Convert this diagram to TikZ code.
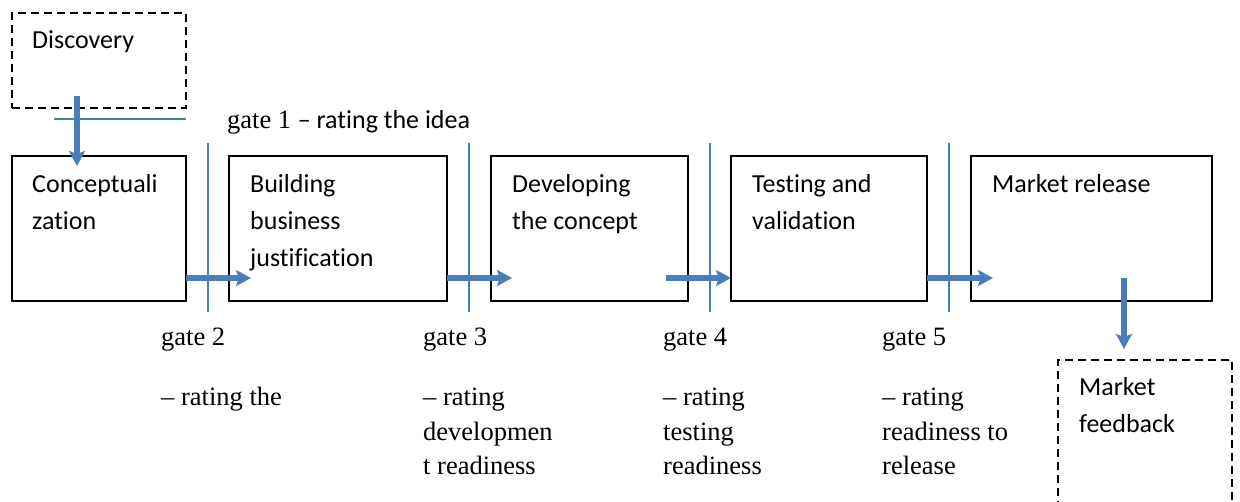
\documentclass[tikz,border=0pt]{standalone}
\usepackage{fontspec}
\setmainfont{Liberation Serif}
\newfontfamily\boxfont{Carlito}[Ligatures=NoCommon]
\usetikzlibrary{arrows.meta,calc}

\definecolor{flowblue}{HTML}{4A7EBB}

\begin{document}
\begin{tikzpicture}[x=1pt,y=1pt,
    flow/.style={draw=flowblue,line width=5.5pt,-{Stealth[length=15pt,width=16pt,inset=3pt]}},
    gate/.style={draw=flowblue,line width=1.5pt}]

        \useasboundingbox (0,0) rectangle (1240,-501);
        \clip (0,0) rectangle (1240,-501);

        % stages
        \begin{scope}[every node/.style={draw,line width=2pt,anchor=north west,
            inner sep=0pt,outer sep=0pt,minimum height=145pt}]
          \node[minimum width=174pt] (1) at (12,-156)  {};
          \node[minimum width=218pt] (2) at (229,-156) {};
          \node[minimum width=197pt] (3) at (491,-156) {};
          \node[minimum width=196pt] (4) at (731,-156) {};
          \node[minimum width=241pt] (5) at (971,-156) {};
        \end{scope}

        % outside the process
        \begin{scope}[every node/.style={draw,line width=2pt,dash pattern=on 8pt off 5pt,
            anchor=north west,inner sep=0pt,outer sep=0pt,minimum width=174pt}]
          \node[minimum height=95pt]  (0) at (12,-13)    {};
          \node[minimum height=200pt] (6) at (1058,-360) {};
        \end{scope}

        \begin{scope}[every node/.style={anchor=north west,inner sep=0pt,align=left,
            font=\boxfont\fontsize{26}{37}\selectfont}]
          \node (0t) at ($(0.north west)+(20,-9)$) {\strut Discovery};
          \node (1t) at ($(1.north west)+(20,-10)$) {\strut Conceptuali\\zation};
          \node (2t) at ($(2.north west)+(21,-10)$) {\strut Building\\business\\justification};
          \node (3t) at ($(3.north west)+(21,-10)$) {\strut Developing\\the concept};
          \node (4t) at ($(4.north west)+(21,-10)$) {\strut Testing and\\validation};
          \node (5t) at ($(5.north west)+(21,-10)$) {\strut Market release};
          \node (6t) at ($(6.north west)+(21,-9)$) {\strut Market\\feedback};
        \end{scope}

        \draw[flow] ($(0.south west)+(65,12)$) -- ($(1.north west)+(65,-10)$);
        \draw[flow] ($(1.south east)+(0,23)$) -- ($(2.south west)+(22,23)$);
        \draw[flow] ($(2.south east)+(0,23)$) -- ($(3.south west)+(21,23)$);
        \draw[flow] ($(3.south east)+(-22,23)$) -- ($(4.south west)+(0,23)$);
        \draw[flow] ($(4.south east)+(0,23)$) -- ($(5.south west)+(22,23)$);
        \draw[flow] ($(5.south west)+(153,23)$) -- ($(6.north west)+(66,11)$);

        % gates
        \draw[gate] (54,-119) -- (186,-119);
        \draw[gate] (208,-143) -- (208,-312);
        \draw[gate] (469,-143) -- (469,-312);
        \draw[gate] (710,-143) -- (710,-312);
        \draw[gate] (949,-143) -- (949,-312);

        \node[anchor=base west,inner sep=0pt,font=\fontsize{26.5}{34.5}\selectfont] (g1)
          at (227,-128) {gate 1 {\boxfont\fontsize{26}{34}\selectfont – rating the idea}};

        \begin{scope}[every node/.style={anchor=north west,inner sep=0pt,align=left,
            font=\fontsize{26.5}{34.5}\selectfont}]
          \node (g2) at (161,-321) {\strut gate 2\\[26pt]– rating the};
          \node (g3) at (423,-321) {\strut gate 3\\[26pt]– rating\\developmen\\t readiness};
          \node (g4) at (663,-321) {\strut gate 4\\[26pt]– rating\\testing\\readiness};
          \node (g5) at (882,-321) {\strut gate 5\\[26pt]– rating\\readiness to\\release};
        \end{scope}

      \end{tikzpicture}
\end{document}
